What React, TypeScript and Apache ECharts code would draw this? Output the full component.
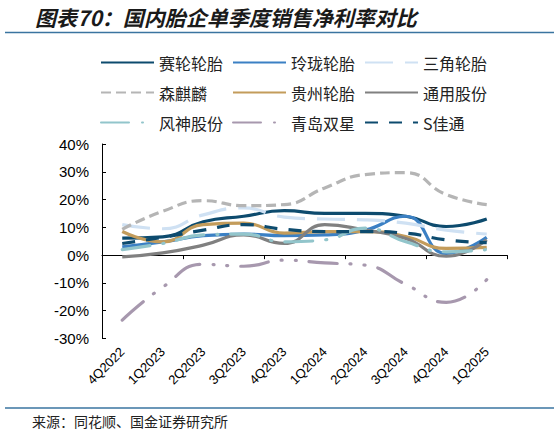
import { useEffect, useRef } from 'react';
import * as echarts from 'echarts';

// quarters on the x axis
const quarters = ['4Q2022', '1Q2023', '2Q2023', '3Q2023', '4Q2023', '1Q2024', '2Q2024', '3Q2024', '4Q2024', '1Q2025'];

// single-quarter net margin, %
const sailun = [6.1, 6.6, 12.0, 14.0, 16.0, 15.0, 15.0, 14.0, 10.3, 13.0];
const linglong = [3.0, 4.8, 7.0, 7.6, 7.0, 7.3, 9.0, 14.0, 0.6, 6.4];
const sanjiao = [11.0, 9.5, 14.5, 17.0, 13.7, 13.0, 12.7, 11.5, 9.0, 7.6];
const senqilin = [9.3, 15.8, 19.6, 17.8, 18.2, 24.2, 29.0, 29.7, 21.8, 18.2];
const guizhou = [8.5, 4.8, 11.0, 11.5, 7.9, 8.5, 8.5, 6.7, 2.4, 2.8];
const tongyong = [-0.6, 0.8, 3.6, 7.3, 4.2, 11.0, 9.0, 6.0, -0.4, 5.5];
const fengshen = [2.0, 4.2, 7.3, 7.6, 4.8, 5.5, 9.7, 4.8, 1.2, 2.0];
const qingdao = [-23.4, -11.5, -3.3, -4.0, -1.8, -2.8, -3.6, -10.5, -17.0, -8.8];
const jiatong = [4.2, 6.4, 9.0, 11.0, 9.3, 8.5, 8.5, 7.9, 5.5, 4.5];

const yTicks = { min: -30, max: 40, step: 10 };

const CJK = '"Noto Sans CJK SC", sans-serif';
const LATIN = '"Liberation Sans", Arial, sans-serif';

type SeriesDef = {
  name: string;
  data: number[];
  color: string;
  dash: string | number[];
  cap?: 'butt' | 'round';
};

const seriesDefs: SeriesDef[] = [
  { name: '赛轮轮胎', data: sailun, color: '#0d4b6e', dash: 'solid' },
  { name: '玲珑轮胎', data: linglong, color: '#3b80c4', dash: 'solid' },
  { name: '三角轮胎', data: sanjiao, color: '#cfe1f3', dash: [28, 12] },
  { name: '森麒麟', data: senqilin, color: '#b5b5b5', dash: [10, 5] },
  { name: '贵州轮胎', data: guizhou, color: '#c39c5b', dash: 'solid' },
  { name: '通用股份', data: tongyong, color: '#808080', dash: 'solid' },
  { name: '风神股份', data: fengshen, color: '#92c5cb', dash: [28, 13, 1, 13], cap: 'round' },
  { name: '青岛双星', data: qingdao, color: '#a798ae', dash: [28, 13, 1, 13, 1, 13], cap: 'round' },
  { name: 'S佳通', data: jiatong, color: '#0d4b6e', dash: [13, 11] },
];

const legendCols = [100, 232, 364];
const legendRows = [54.5, 84.5, 114.5];

export default function App() {
  const ref = useRef<HTMLDivElement>(null);

  useEffect(() => {
    if (!ref.current) return;
    const chart = echarts.init(ref.current, undefined, { renderer: 'svg' });

    // one legend per cell so the 3x3 grid lines up like the original
    const legends = seriesDefs.map((s, i) => ({
      data: [s.name],
      left: legendCols[i % 3],
      top: legendRows[Math.floor(i / 3)],
      padding: 0,
      itemWidth: 53,
      itemHeight: 16,
      selectedMode: false,
      itemStyle: { opacity: 0 },
      textStyle: { fontSize: 16, fontFamily: CJK, color: '#222', lineHeight: 16 },
    }));

    const option: echarts.EChartsOption = {
      animation: false,
      backgroundColor: '#fff',
      legend: legends as any,
      grid: { left: 102, right: 52, top: 144, height: 194.5, containLabel: false },
      xAxis: [
        {
          type: 'category',
          data: quarters,
          axisLine: { onZero: true, lineStyle: { color: '#000', width: 1 } },
          axisTick: { show: true, length: 4, lineStyle: { color: '#000' } },
          axisLabel: { show: false },
          splitLine: { show: false },
        },
        {
          type: 'category',
          data: quarters,
          position: 'bottom',
          axisLine: { show: false, onZero: false },
          axisTick: { show: false },
          axisLabel: {
            rotate: 45,
            margin: 11,
            fontSize: 13,
            color: '#000',
            fontFamily: LATIN,
          },
        },
      ],
      yAxis: {
        type: 'value',
        min: yTicks.min,
        max: yTicks.max,
        interval: yTicks.step,
        axisLine: { show: true, lineStyle: { color: '#000', width: 1 } },
        axisTick: { show: true, inside: true, length: 4, lineStyle: { color: '#000' } },
        axisLabel: { formatter: '{value}%', fontSize: 15, color: '#000', fontFamily: LATIN, margin: 13 },
        splitLine: { show: false },
      },
      series: seriesDefs.map((s) => ({
        name: s.name,
        type: 'line',
        data: s.data,
        smooth: true,
        symbol: 'none',
        color: s.color,
        lineStyle: { color: s.color, width: 3.2, type: s.dash as any, cap: s.cap ?? 'butt' },
      })),
      graphic: [
        {
          type: 'text',
          left: 35,
          top: 6,
          style: {
            text: '图表70：国内胎企单季度销售净利率对比',
            fontSize: 21,
            fontWeight: 'bold',
            fontStyle: 'italic',
            fontFamily: CJK,
            fill: '#1a1a1a',
          },
        },
        {
          type: 'line',
          shape: { x1: 5, y1: 32.5, x2: 554, y2: 32.5 },
          style: { stroke: '#3a74a0', lineWidth: 1.5 },
        },
        {
          type: 'line',
          shape: { x1: 5, y1: 408, x2: 554, y2: 408 },
          style: { stroke: '#3a74a0', lineWidth: 1.5 },
        },
        {
          type: 'text',
          left: 32,
          top: 414,
          style: {
            text: '来源：同花顺、国金证券研究所',
            fontSize: 14,
            fontFamily: CJK,
            fill: '#222',
          },
        },
      ],
    };

    chart.setOption(option);
    return () => chart.dispose();
  }, []);

  return (
    <div
      ref={ref}
      style={{ position: 'fixed', left: 0, top: 0, width: 559, height: 435 }}
    />
  );
}
